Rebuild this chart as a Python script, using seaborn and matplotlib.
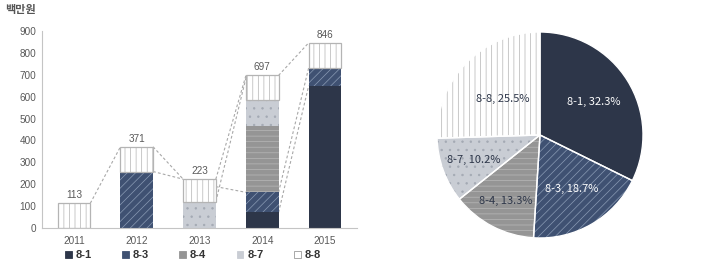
import numpy as np
import pandas as pd
import matplotlib
matplotlib.use("Agg")
import matplotlib.pyplot as plt
import seaborn as sns
from matplotlib.patches import Patch

# ---------------- data ----------------
years = ["2011", "2012", "2013", "2014", "2015"]
series_names = ["8-1", "8-3", "8-4", "8-7", "8-8"]
s81 = [0, 0, 0, 71, 650]
s83 = [0, 258, 0, 92, 82]
s84 = [0, 0, 0, 303, 0]
s87 = [0, 0, 120, 120, 0]
s88 = [113, 113, 103, 111, 114]
totals = [113, 371, 223, 697, 846]
y_ticks = [0, 100, 200, 300, 400, 500, 600, 700, 800, 900]
unit_label = "백만원"

# dashed connector lines: (from bar index, value at that bar, value at next bar)
conn_from = [0, 1, 1, 2, 2, 2, 3, 3, 3]
conn_start = [113, 371, 258, 223, 120, 189, 697, 163, 71]
conn_end = [371, 223, 223, 697, 685, 163, 846, 732, 650]

pie_shares = [32.3, 18.7, 13.3, 10.2, 25.5]

# ---------------- style ----------------
sns.set_theme(style="white")
plt.rcParams["font.family"] = ["Liberation Sans", "Noto Sans CJK KR"]
plt.rcParams["hatch.linewidth"] = 0.5

face = ["#2d3649", "#3f5172", "#959595", "#c9cdd4", "#ffffff"]
hatches = [None, "////", "---", "..", "|||"]
hatch_col = ["#2d3649", "#8a9bb4", "#b8b8b8", "#a3a9b3", "#b4b4b4"]
txt_col = "#595959"

fig = plt.figure(figsize=(7.15, 2.64), dpi=100)
ax = fig.add_axes([42 / 715, 1 - 228 / 264, 315 / 715, 197 / 264])

df = pd.DataFrame({"year": years, "8-1": s81, "8-3": s83, "8-4": s84,
                   "8-7": s87, "8-8": s88})
bottom = np.zeros(len(years))
bar_w = 0.52
for i, name in enumerate(series_names):
    lw = 0.9 if name == "8-8" else 0
    sns.barplot(data=df, x="year", y=name, ax=ax, color=face[i], saturation=1,
                hatch=hatches[i], edgecolor=hatch_col[i], linewidth=lw,
                width=bar_w, errorbar=None, bottom=bottom.copy())
    bottom += np.array(df[name], dtype=float)

for f, a, b in zip(conn_from, conn_start, conn_end):
    ax.plot([f + bar_w / 2, f + 1 - bar_w / 2], [a, b], ls=(0, (2.5, 2)),
            color="#a8a8a8", lw=0.8, zorder=0.5)

for i, t in enumerate(totals):
    ax.text(i, t + 14, str(t), ha="center", va="bottom", fontsize=7.2,
            color=txt_col, clip_on=False)

ax.set_xlim(-0.51, 4.51)
ax.set_ylim(0, 900)
ax.set_yticks(y_ticks)
ax.set_xlabel("")
ax.set_ylabel("")
ax.tick_params(axis="both", length=0, labelsize=7.2, colors=txt_col)
ax.tick_params(axis="x", pad=6)
ax.tick_params(axis="y", pad=4)
for s in ["top", "right"]:
    ax.spines[s].set_visible(False)
for s in ["left", "bottom"]:
    ax.spines[s].set_color("#c4c4c4")
    ax.spines[s].set_linewidth(0.8)

fig.text(5 / 715, 1 - 10 / 264, unit_label, fontsize=8, weight="bold",
         color="#555555", va="center", ha="left",
         family=["Noto Sans CJK KR", "DejaVu Sans"])

handles = [Patch(facecolor=face[i],
                 edgecolor=("#9a9a9a" if series_names[i] == "8-8" else face[i]),
                 linewidth=0.6) for i in range(5)]
leg = fig.legend(handles, series_names, loc="center",
                 bbox_to_anchor=(193 / 715, 1 - 255 / 264), ncol=5, frameon=False,
                 prop=dict(weight="bold", size=8), handlelength=0.6,
                 handleheight=0.6, handletextpad=0.35, columnspacing=2.75,
                 borderpad=0, borderaxespad=0)
for t in leg.get_texts():
    t.set_color("#333333")

# ---------------- pie ----------------
pax = fig.add_axes([(540 - 103) / 715, 1 - (135 + 103) / 264, 206 / 715, 206 / 264])
wedges, _ = pax.pie(pie_shares, startangle=90, counterclock=False, colors=face,
                    wedgeprops=dict(linewidth=0))
for w, h, hc in zip(wedges, hatches, hatch_col):
    if h:
        w.set_hatch(h)
    w.set_edgecolor(hc)
    w.set_linewidth(0)
pax.pie(pie_shares, startangle=90, counterclock=False,
        wedgeprops=dict(linewidth=1.0, edgecolor="white", fill=False))

label_r = [0.61, 0.61, 0.72, 0.69, 0.5]
label_col = ["white", "white", "#2d3649", "#2d3649", "#2d3649"]
for w, name, share, r, c in zip(wedges, series_names, pie_shares, label_r, label_col):
    ang = np.deg2rad((w.theta1 + w.theta2) / 2)
    pax.text(r * np.cos(ang), r * np.sin(ang), f"{name}, {share:.1f}%",
             ha="center", va="center", fontsize=8, color=c,
             family=["Noto Sans CJK KR", "DejaVu Sans"])
pax.set_xlim(-1, 1)
pax.set_ylim(-1, 1)
pax.set_aspect("equal")

fig.savefig("out.png", dpi=100)
